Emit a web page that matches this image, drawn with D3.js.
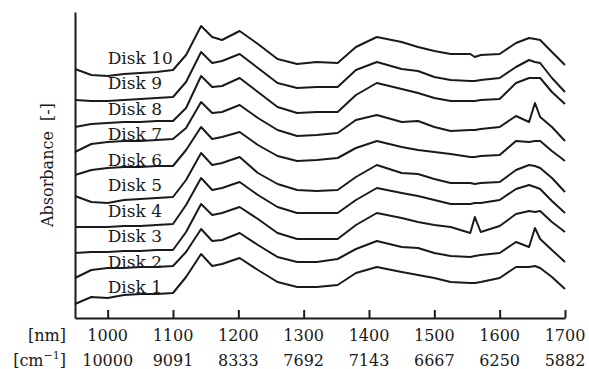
<!DOCTYPE html>
<html>
<head>
<meta charset="utf-8">
<script src="https://cdn.jsdelivr.net/npm/d3@7"></script>
<style>
  body { margin: 0; background: #fff; }
  svg { display: block; }
  text { font-family: "DejaVu Serif", serif; fill: #1a1a1a; }
</style>
</head>
<body>
<svg id="chart" width="589" height="369"></svg>
<script>
// wavelength grid (nm) the spectra were read at
const wavelengths = [950, 975, 1000, 1025, 1050, 1075, 1100, 1120, 1143, 1160, 1175, 1202, 1230, 1260, 1290, 1320, 1352,
  1380, 1412, 1450, 1475, 1500, 1525, 1555, 1562, 1571, 1600, 1625, 1645, 1654, 1662, 1680, 1700];

// absorbance (offset stacked, arbitrary units) per disk
const disk1 = [0.14, 0.21, 0.20, 0.23, 0.24, 0.24, 0.25, 0.41, 0.64, 0.52, 0.54, 0.60, 0.48, 0.36, 0.31, 0.31, 0.33,
  0.45, 0.51, 0.46, 0.43, 0.40, 0.36, 0.35, 0.35, 0.36, 0.40, 0.51, 0.51, 0.52, 0.50, 0.41, 0.29];
const disk2 = [0.40, 0.48, 0.50, 0.50, 0.51, 0.51, 0.52, 0.66, 0.89, 0.77, 0.78, 0.85, 0.73, 0.61, 0.56, 0.56, 0.59,
  0.69, 0.77, 0.71, 0.70, 0.65, 0.62, 0.61, 0.62, 0.63, 0.65, 0.76, 0.71, 0.90, 0.79, 0.68, 0.56];
const disk3 = [0.65, 0.66, 0.66, 0.67, 0.67, 0.68, 0.68, 0.86, 1.14, 1.03, 1.05, 1.11, 0.99, 0.85, 0.79, 0.79, 0.79,
  0.93, 1.05, 1.00, 0.96, 0.93, 0.91, 0.85, 1.01, 0.86, 0.92, 1.04, 1.07, 1.06, 1.07, 0.96, 0.86];
const disk4 = [0.91, 0.91, 0.91, 0.92, 0.92, 0.93, 0.94, 1.13, 1.40, 1.28, 1.30, 1.36, 1.23, 1.11, 1.05, 1.05, 1.05,
  1.18, 1.30, 1.25, 1.22, 1.18, 1.14, 1.14, 1.15, 1.15, 1.18, 1.29, 1.33, 1.31, 1.29, 1.17, 1.05];
const disk5 = [1.22, 1.16, 1.15, 1.18, 1.19, 1.20, 1.21, 1.38, 1.65, 1.53, 1.55, 1.61, 1.45, 1.34, 1.28, 1.27, 1.28,
  1.41, 1.53, 1.45, 1.44, 1.39, 1.35, 1.35, 1.34, 1.35, 1.36, 1.48, 1.53, 1.52, 1.50, 1.40, 1.26];
const disk6 = [1.43, 1.48, 1.50, 1.51, 1.51, 1.52, 1.52, 1.68, 1.91, 1.79, 1.81, 1.86, 1.73, 1.62, 1.57, 1.58, 1.60,
  1.70, 1.77, 1.71, 1.68, 1.66, 1.64, 1.61, 1.61, 1.62, 1.63, 1.77, 1.76, 1.77, 1.77, 1.67, 1.57];
const disk7 = [1.66, 1.74, 1.76, 1.77, 1.77, 1.78, 1.79, 1.90, 2.16, 2.05, 2.06, 2.13, 2.00, 1.88, 1.82, 1.83, 1.85,
  1.98, 2.03, 1.96, 1.97, 1.91, 1.87, 1.88, 1.88, 1.89, 1.91, 2.02, 1.96, 2.15, 2.01, 1.91, 1.77];
const disk8 = [1.91, 1.94, 1.95, 1.96, 1.96, 1.97, 1.97, 2.10, 2.42, 2.31, 2.32, 2.40, 2.26, 2.11, 2.05, 2.06, 2.06,
  2.23, 2.35, 2.29, 2.25, 2.20, 2.17, 2.17, 2.17, 2.18, 2.19, 2.35, 2.40, 2.40, 2.40, 2.26, 2.14];
const disk9 = [2.18, 2.17, 2.17, 2.18, 2.19, 2.20, 2.21, 2.36, 2.66, 2.55, 2.57, 2.64, 2.50, 2.35, 2.30, 2.31, 2.31,
  2.48, 2.56, 2.49, 2.47, 2.41, 2.38, 2.37, 2.37, 2.38, 2.40, 2.51, 2.58, 2.56, 2.55, 2.40, 2.26];
const disk10 = [2.49, 2.43, 2.42, 2.44, 2.45, 2.46, 2.48, 2.63, 2.92, 2.81, 2.78, 2.87, 2.74, 2.59, 2.54, 2.56, 2.55,
  2.71, 2.81, 2.76, 2.71, 2.67, 2.64, 2.64, 2.61, 2.63, 2.64, 2.75, 2.80, 2.79, 2.78, 2.66, 2.53];

const diskNames = ["Disk 1", "Disk 2", "Disk 3", "Disk 4", "Disk 5", "Disk 6", "Disk 7", "Disk 8", "Disk 9", "Disk 10"];
const diskValues = [disk1, disk2, disk3, disk4, disk5, disk6, disk7, disk8, disk9, disk10];

const nmTicks = [1000, 1100, 1200, 1300, 1400, 1500, 1600, 1700];
const cmTickLabels = ["10000", "9091", "8333", "7692", "7143", "6667", "6250", "5882"];

const svg = d3.select("#chart");

const x = d3.scaleLinear().domain([950, 1700]).range([75, 565]);
const y = d3.scaleLinear().domain([0, 3.06]).range([318, 12]);
// label rows, Disk 1 at the bottom
const labelY = d3.scalePoint().domain(diskNames).range([293, 64]);

const line = d3.line()
  .x((d, i) => x(wavelengths[i]))
  .y(d => y(d));

svg.append("g")
  .selectAll("path")
  .data(diskValues)
  .join("path")
    .attr("d", line)
    .attr("fill", "none")
    .attr("stroke", "#1a1a1a")
    .attr("stroke-width", 2)
    .attr("stroke-linejoin", "round");

svg.append("g")
  .selectAll("text")
  .data(diskNames)
  .join("text")
    .attr("x", x(1000))
    .attr("y", d => labelY(d))
    .attr("font-size", 17)
    .text(d => d);

// axes
const xAxis = svg.append("g")
  .attr("transform", `translate(0,${y(0)})`)
  .call(d3.axisBottom(x).tickValues(nmTicks).tickSize(-8).tickSizeOuter(0).tickFormat(""));
xAxis.selectAll("path, line").attr("stroke", "#1a1a1a").attr("stroke-width", 2);

const yAxis = svg.append("g")
  .attr("transform", `translate(${x(950)},0)`)
  .call(d3.axisLeft(y).tickValues([]).tickSizeOuter(0));
yAxis.selectAll("path").attr("stroke", "#1a1a1a").attr("stroke-width", 2);

svg.append("g")
  .selectAll("text")
  .data(nmTicks)
  .join("text")
    .attr("x", d => x(d))
    .attr("y", 341)
    .attr("text-anchor", "middle")
    .attr("font-size", 16)
    .text(d => d);

svg.append("g")
  .selectAll("text")
  .data(nmTicks)
  .join("text")
    .attr("x", d => x(d))
    .attr("y", 366)
    .attr("text-anchor", "middle")
    .attr("font-size", 16)
    .text((d, i) => cmTickLabels[i]);

svg.append("text")
  .attr("x", 66)
  .attr("y", 341)
  .attr("text-anchor", "end")
  .attr("font-size", 16)
  .text("[nm]");

const cm = svg.append("text")
  .attr("x", 66)
  .attr("y", 366)
  .attr("text-anchor", "end")
  .attr("font-size", 16);
cm.append("tspan").text("[cm");
cm.append("tspan").attr("font-size", 11).attr("dy", -7).text("\u22121");
cm.append("tspan").attr("dy", 7).text("]");

svg.append("text")
  .attr("transform", "translate(53,165) rotate(-90)")
  .attr("text-anchor", "middle")
  .attr("font-size", 16)
  .style("white-space", "pre")
  .text("Absorbance  [-]");
</script>
</body>
</html>
